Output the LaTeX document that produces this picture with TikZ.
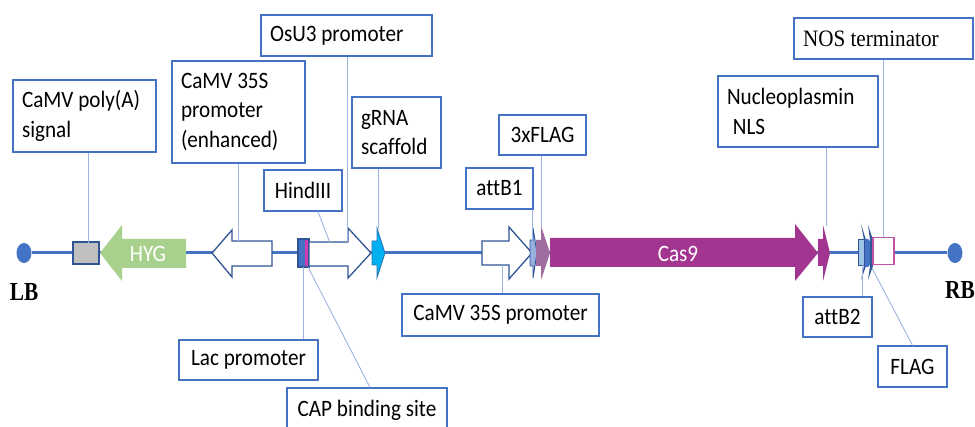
\documentclass[tikz,border=0pt]{standalone}
\usepackage{fontspec}
\setmainfont{Carlito}[FakeStretch=0.9, Ligatures=NoCommon]
\newfontfamily\timesface{Liberation Serif}[FakeStretch=0.9]
\newfontfamily\borderface{Liberation Serif}[FakeStretch=0.82]
\usetikzlibrary{shapes.geometric}

\definecolor{dnablue}{HTML}{4472C4}
\definecolor{edgeblue}{HTML}{2F5597}
\definecolor{leadblue}{HTML}{9DB5E2}
\definecolor{hygreen}{HTML}{A9D18E}
\definecolor{polyagray}{HTML}{BFBFBF}
\definecolor{capmagenta}{HTML}{D03CB4}
\definecolor{grnacyan}{HTML}{00B0F0}
\definecolor{grnaedge}{HTML}{2E75B6}
\definecolor{flagmauve}{HTML}{A06CA0}
\definecolor{casmagenta}{HTML}{A2358F}
\definecolor{attlight}{HTML}{9DC3E6}
\definecolor{nosedge}{HTML}{C055A8}

\newcommand\lblfont{\fontsize{23.5}{29.5}\selectfont}

\begin{document}
\begin{tikzpicture}[x=1pt,y=-1pt,
  lbl/.style={draw=dnablue, line width=1.2pt, fill=white, inner xsep=9pt,
    inner ysep=0pt, font=\lblfont, text=black},
  lead/.style={draw=leadblue, line width=0.9pt},
  outl/.style={draw=edgeblue, line width=1.3pt, line join=miter},
  backbone/.style={draw=dnablue, line width=3pt},
  enddot/.style={ellipse, fill=dnablue, minimum width=15pt, minimum height=20pt, inner sep=0pt},
  endlabel/.style={font=\borderface\bfseries\fontsize{26}{26}\selectfont, inner sep=0pt}]
\useasboundingbox (0,0) rectangle (975,427);
\fill[white] (0,0) rectangle (975,427);

% T-DNA borders and backbone
\node[enddot] (lbdot) at (24,253) {};
\node[enddot] (rbdot) at (955,253) {};
\draw[backbone] (lbdot) -- (rbdot);
\node[endlabel] (lb) at (24,292.5) {LB};
\node[endlabel] (rb) at (960,290) {RB};

% CaMV poly(A) signal
\node[draw=edgeblue, line width=1.2pt, fill=polyagray, minimum width=26pt,
  minimum height=22pt, inner sep=0pt] (polyabox) at (86,253) {};

% HYG, pointing left
\fill[hygreen] (100,253) -- (122,225) -- (122,239) -- (186,239) -- (186,268)
  -- (122,268) -- (122,281) -- cycle;
\node[font=\lblfont, text=white, inner sep=0pt] (hyg) at (148,254) {HYG};

% CaMV 35S promoter (enhanced), pointing left
\filldraw[outl, fill=white] (212,253) -- (232,230) -- (232,241) -- (272,241)
  -- (272,266) -- (232,266) -- (232,277) -- cycle;
\coordinate (enhtop) at (238,241);

% Lac promoter / CAP binding site
\fill[dnablue] (298,239) rectangle (309,267);
\fill[capmagenta] (305,239) rectangle (307.5,267);
\draw[edgeblue, line width=1.2pt] (298,239) rectangle (309,267);
\coordinate (lacbot) at (303,267);
\coordinate (capbot) at (308,267);

% OsU3 promoter, pointing right
\filldraw[outl, fill=white] (309,242) -- (348,242) -- (348,228) -- (371,253)
  -- (348,278) -- (348,266) -- (309,266) -- cycle;
\coordinate (osutop) at (347,242);
\coordinate (hindpt) at (330,243);

% gRNA scaffold
\filldraw[fill=grnacyan, draw=grnaedge, line width=0.8pt] (372,241) -- (377,241)
  -- (377,228) -- (385,253) -- (377,278) -- (377,265) -- (372,265) -- cycle;
\coordinate (grnatop) at (378,229);

% CaMV 35S promoter, pointing right
\filldraw[outl, fill=white] (482,241) -- (509,241) -- (509,227) -- (532,253)
  -- (509,279) -- (509,265) -- (482,265) -- cycle;
\coordinate (p35bot) at (502,265);

% attB1
\filldraw[fill=dnablue!55, draw=edgeblue, line width=0.9pt] (530,240) -- (533,240)
  -- (533,228) -- (537,253) -- (533,278) -- (533,266) -- (530,266) -- cycle;
\coordinate (attbtop) at (532,240);

% 3xFLAG
\fill[flagmauve] (536,240) -- (541,240) -- (541,226) -- (550,253) -- (541,280)
  -- (541,266) -- (536,266) -- cycle;
\coordinate (flagtop) at (541,227);

% Cas9
\fill[casmagenta] (550,238) -- (795,238) -- (795,224) -- (818,253) -- (795,281)
  -- (795,267) -- (550,267) -- cycle;
\node[font=\lblfont, text=white, inner sep=0pt] (cas) at (678,254) {Cas9};

% Nucleoplasmin NLS
\fill[casmagenta] (818,239) -- (823,239) -- (823,225) -- (830,253) -- (823,281)
  -- (823,266) -- (818,266) -- cycle;
\coordinate (nlstop) at (826,226);

% attB2
\filldraw[fill=attlight, draw=edgeblue, line width=0.8pt] (858,239) rectangle (864,265);
\fill[edgeblue] (861,224) -- (866,240) -- (866,266) -- (861,280) -- (864,266)
  -- (864,240) -- cycle;
\coordinate (attb2bot) at (862,265);

% FLAG
\fill[dnablue] (865,239) -- (868,239) .. controls (873,241) and (873,265) .. (868,267)
  -- (865,267) -- cycle;
\fill[edgeblue] (868,225) -- (873,240) -- (873,266) -- (868,280) -- (870,266)
  -- (870,240) -- cycle;
\coordinate (flagbot) at (872,268);

% NOS terminator
\node[draw=nosedge, fill=white, line width=1.3pt, minimum width=21pt,
  minimum height=27pt, inner sep=0pt] (nosbox) at (883.5,251) {};

% labels
\node[lbl, minimum width=143pt, minimum height=72pt, text width=125pt, align=flush left]
  (polya) at (84.5,116) {CaMV poly(A)\\signal};
\node[lbl, minimum width=133pt, minimum height=102pt, text width=115pt, align=flush left]
  (enh) at (238.5,112) {CaMV 35S\\promoter\\(enhanced)};
\node[lbl, minimum width=171pt, minimum height=41pt, text width=153pt, align=flush left]
  (osu) at (346.5,35.5) {OsU3 promoter};
\node[lbl, minimum width=89pt, minimum height=71pt, text width=71pt, align=flush left]
  (grna) at (396.5,132.5) {gRNA\\scaffold};
\node[lbl, minimum width=78pt, minimum height=41pt] (hind) at (303,190.5) {HindIII};
\node[lbl, minimum width=139pt, minimum height=40pt] (lac) at (248.5,360) {Lac promoter};
\node[lbl, minimum width=160pt, minimum height=44pt] (cap) at (367,410) {CAP binding site};
\node[lbl, minimum width=197pt, minimum height=42pt] (p35) at (500.5,315) {CaMV 35S promoter};
\node[lbl, minimum width=67pt, minimum height=41pt] (attb) at (499.5,188.5) {attB1};
\node[lbl, minimum width=87pt, minimum height=40pt] (flag3) at (542.5,135) {3xFLAG};
\node[lbl, minimum width=160pt, minimum height=71pt, text width=142pt, align=flush left]
  (nls) at (798,111.5) {Nucleoplasmin\\\hspace{0.25em}NLS};
\node[lbl, minimum width=179pt, minimum height=41pt, text width=161pt, align=flush left,
  font=\timesface\fontsize{23.5}{28}\selectfont] (nos) at (883.5,38.5) {NOS terminator};
\node[lbl, minimum width=69pt, minimum height=40pt] (attbb) at (837.5,317) {attB2};
\node[lbl, minimum width=69pt, minimum height=41pt] (flag) at (912.5,366.5) {FLAG};

% leader lines
\draw[lead] (polya.south -| polyabox.north) ++(2,0) -- ++(0,90);
\draw[lead] (enh.south -| enhtop) -- (enhtop);
\draw[lead] (osu.south -| osutop) -- (osutop);
\draw[lead] (grna.south -| grnatop) -- (grnatop);
\draw[lead] ([xshift=15pt]hind.south) -- (hindpt);
\draw[lead] (lac.north -| lacbot) -- (lacbot);
\draw[lead] ([xshift=3pt]cap.north) -- (capbot);
\draw[lead] (p35.north -| p35bot) -- (p35bot);
\draw[lead] (attb.south -| attbtop) -- (attbtop);
\draw[lead] (flag3.south -| flagtop) -- (flagtop);
\draw[lead] (nls.south -| nlstop) -- (nlstop);
\draw[lead] (nos.south -| nosbox.north) -- (nosbox.north);
\draw[lead] (attbb.north -| attb2bot) -- (attb2bot);
\draw[lead] (flag.north) -- (flagbot);
\end{tikzpicture}
\end{document}
